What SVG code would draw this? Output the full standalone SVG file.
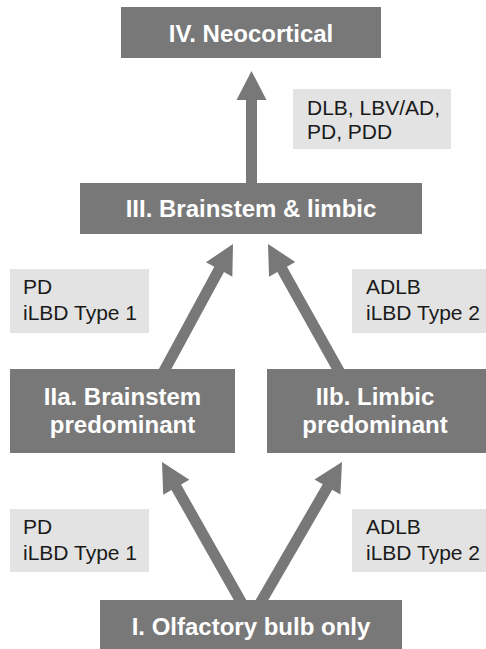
<svg xmlns="http://www.w3.org/2000/svg" width="486" height="649" viewBox="0 0 486 649">
<style>
.box{fill:#787878}
.lbl{fill:#e3e3e3}
.bt{font-family:"Liberation Sans",Arial,sans-serif;font-weight:bold;font-size:24px;fill:#ffffff;text-anchor:middle}
.lt{font-family:"Liberation Sans",Arial,sans-serif;font-size:21px;fill:#1a1a1a}
.arr{fill:#787878}
</style>
<rect width="486" height="649" fill="#ffffff"/>
<g id="connectors">
<path class="arr" transform="translate(251.5,71)" d="M0,0 L15,29 L5.5,29 L5.5,115 L-5.5,115 L-5.5,29 L-15,29 Z"/>
<path class="arr" transform="translate(233,244) rotate(28.5)" d="M0,0 L15,29 L5.5,29 L5.5,150 L-5.5,150 L-5.5,29 L-15,29 Z"/>
<path class="arr" transform="translate(268,244) rotate(-29.2)" d="M0,0 L15,29 L5.5,29 L5.5,150 L-5.5,150 L-5.5,29 L-15,29 Z"/>
<path class="arr" transform="translate(162,462) rotate(-29.5)" d="M0,0 L15,29 L5.5,29 L5.5,165 L-5.5,165 L-5.5,29 L-15,29 Z"/>
<path class="arr" transform="translate(342,462) rotate(30.1)" d="M0,0 L15,29 L5.5,29 L5.5,165 L-5.5,165 L-5.5,29 L-15,29 Z"/>
</g>
<g id="n4">
<rect class="box" x="121" y="7" width="260" height="51"/>
<text class="bt" x="251" y="42">IV. Neocortical</text>
</g>
<g id="l4">
<rect class="lbl" x="293" y="89" width="158" height="60"/>
<text class="lt" x="307" y="115">DLB, LBV/AD,</text>
<text class="lt" x="307" y="139">PD, PDD</text>
</g>
<g id="n3">
<rect class="box" x="80" y="183" width="342" height="51"/>
<text class="bt" x="251" y="217">III. Brainstem &amp; limbic</text>
</g>
<g id="l3a">
<rect class="lbl" x="10" y="269" width="139" height="64"/>
<text class="lt" x="23" y="294">PD</text>
<text class="lt" x="23" y="320">iLBD Type 1</text>
</g>
<g id="l3b">
<rect class="lbl" x="352" y="269" width="134" height="64"/>
<text class="lt" x="366" y="294">ADLB</text>
<text class="lt" x="366" y="320">iLBD Type 2</text>
</g>
<g id="n2a">
<rect class="box" x="10" y="369" width="225" height="84"/>
<text class="bt" x="122.5" y="405">IIa. Brainstem</text>
<text class="bt" x="122.5" y="433">predominant</text>
</g>
<g id="n2b">
<rect class="box" x="267" y="369" width="219" height="84"/>
<text class="bt" x="375" y="405">IIb. Limbic</text>
<text class="bt" x="375" y="433">predominant</text>
</g>
<g id="l2a">
<rect class="lbl" x="10" y="509" width="139" height="63"/>
<text class="lt" x="23" y="534">PD</text>
<text class="lt" x="23" y="560">iLBD Type 1</text>
</g>
<g id="l2b">
<rect class="lbl" x="352" y="509" width="134" height="63"/>
<text class="lt" x="366" y="534">ADLB</text>
<text class="lt" x="366" y="560">iLBD Type 2</text>
</g>
<g id="n1">
<rect class="box" x="100" y="600" width="302" height="49"/>
<text class="bt" x="251" y="635">I. Olfactory bulb only</text>
</g>
</svg>
